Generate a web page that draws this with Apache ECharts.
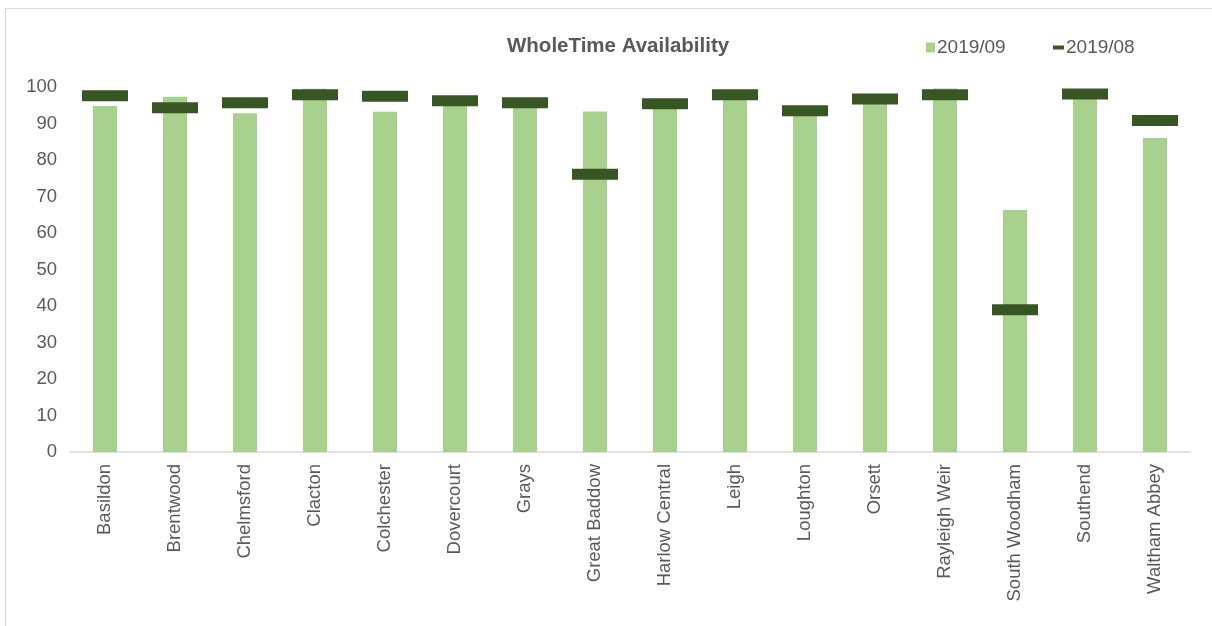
<!DOCTYPE html>
<html>
<head>
<meta charset="utf-8">
<script src="https://cdn.jsdelivr.net/npm/echarts@6/dist/echarts.min.js"></script>
<style>
  html, body { margin: 0; padding: 0; background: #fff; }
  #frame { position: absolute; left: 5px; top: 8px; width: 1207px; height: 618px; border-left: 1px solid #d9d9d9; border-top: 1px solid #d9d9d9; }
  #chart { position: absolute; left: 0; top: 0; width: 1212px; height: 626px; }
</style>
</head>
<body>
<div id="frame"></div>
<div id="chart"></div>
<script>
// stations
var stations = ['Basildon', 'Brentwood', 'Chelmsford', 'Clacton', 'Colchester', 'Dovercourt', 'Grays', 'Great Baddow',
                'Harlow Central', 'Leigh', 'Loughton', 'Orsett', 'Rayleigh Weir', 'South Woodham', 'Southend', 'Waltham Abbey'];
// 2019/09 availability (bars)
var sep2019 = [94.8, 97.3, 92.8, 99.5, 93.2, 95.5, 95.0, 93.3, 95.0, 97.5, 92.5, 96.0, 99.6, 66.3, 97.5, 86.0];
// 2019/08 availability (markers)
var aug2019 = [97.6, 94.3, 95.7, 97.9, 97.5, 96.2, 95.7, 76.1, 95.4, 97.9, 93.5, 96.7, 97.9, 39.0, 98.1, 90.8];
var yTicks = [0, 10, 20, 30, 40, 50, 60, 70, 80, 90, 100];

var txt = '#595959';
var fontFam = '"Liberation Sans", Arial, sans-serif';

var myChart = echarts.init(document.getElementById('chart'));
var option = {
    animation: false,
    title: {
        text: 'WholeTime Availability',
        left: 502, top: 31,
        textStyle: { color: txt, fontSize: 20.5, fontWeight: 'bold', fontFamily: fontFam }
    },
    legend: [{
        data: ['2019/09'],
        left: 921, top: 33,
        icon: 'rect', itemWidth: 9, itemHeight: 10, itemGap: 4,
        textStyle: { color: txt, fontSize: 19, fontFamily: fontFam, padding: [0, 0, 0, -3] }
    }, {
        data: ['2019/08'],
        left: 1048, top: 33,
        icon: 'rect', itemWidth: 11, itemHeight: 4,
        textStyle: { color: txt, fontSize: 19, fontFamily: fontFam, padding: [0, 0, 0, -3] }
    }],
    grid: { left: 70, right: 22, top: 87, bottom: 174, containLabel: false },
    xAxis: {
        type: 'category',
        data: stations,
        axisLine: { lineStyle: { color: '#d9d9d9', width: 1.5 } },
        axisTick: { show: false },
        axisLabel: { rotate: 90, color: txt, fontSize: 18.5, fontFamily: fontFam, margin: 12, interval: 0 }
    },
    yAxis: {
        type: 'value',
        min: yTicks[0], max: yTicks[yTicks.length - 1], interval: 10,
        splitLine: { show: false },
        axisLine: { show: false },
        axisTick: { show: false },
        axisLabel: { color: txt, fontSize: 18.5, fontFamily: fontFam, margin: 13 }
    },
    series: [{
        name: '2019/09',
        type: 'bar',
        data: sep2019,
        barWidth: 24,
        itemStyle: { color: '#a9d18e' }
    }, {
        name: '2019/08',
        type: 'scatter',
        data: aug2019,
        symbol: 'rect',
        symbolSize: [46, 11],
        z: 5,
        itemStyle: { color: '#375623', opacity: 1 }
    }]
};
myChart.setOption(option);
window.onresize = myChart.resize;
</script>
</body>
</html>
